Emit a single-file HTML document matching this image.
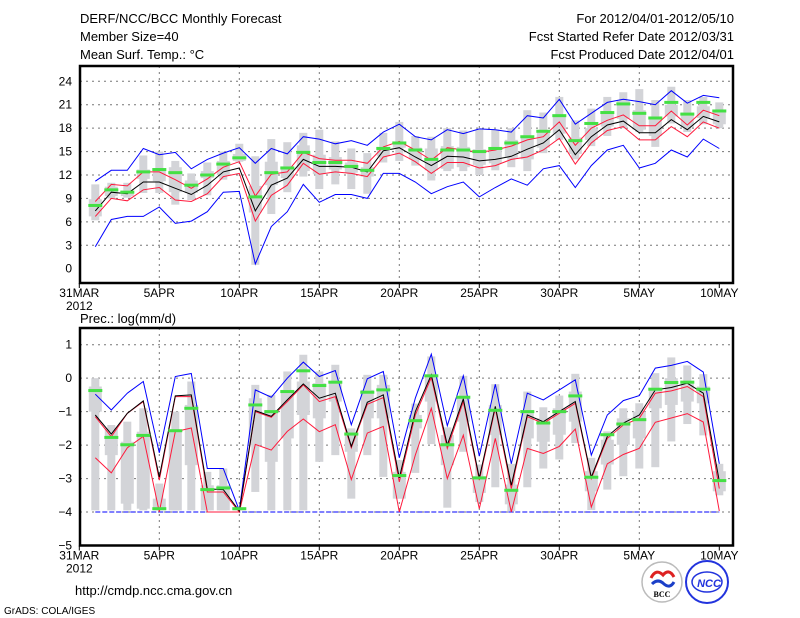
<!DOCTYPE html>
<html><head><meta charset="utf-8"><style>
html,body{margin:0;padding:0;background:#fff;}
svg{display:block;font-family:"Liberation Sans",sans-serif;}
</style></head><body>
<svg id="chart" width="800" height="618" viewBox="0 0 800 618" xmlns="http://www.w3.org/2000/svg">
<rect x="0" y="0" width="800" height="618" fill="#fff"/>
<g font-size="13" fill="#000">
<text x="80" y="23">DERF/NCC/BCC Monthly Forecast</text>
<text x="80" y="41">Member Size=40</text>
<text x="80" y="59">Mean Surf. Temp.: °C</text>
<text x="734" y="23" text-anchor="end">For 2012/04/01-2012/05/10</text>
<text x="734" y="41" text-anchor="end">Fcst Started Refer Date 2012/03/31</text>
<text x="734" y="59" text-anchor="end">Fcst Produced Date 2012/04/01</text>
<text x="80" y="323">Prec.: log(mm/d)</text>
<text x="75" y="595">http://cmdp.ncc.cma.gov.cn</text>
<text x="4" y="614" font-size="10">GrADS: COLA/IGES</text>
</g>
<g>
<circle cx="662" cy="582" r="20" fill="#fff" stroke="#bbb" stroke-width="1.5"/>
<path d="M651 578 q5 -10 12 -3 q6 -7 11 2" fill="none" stroke="#d22" stroke-width="3"/>
<path d="M652 584 q6 -6 12 0 q6 5 10 -2" fill="none" stroke="#1b3fc8" stroke-width="3"/>
<text x="662" y="597" font-size="8" text-anchor="middle" font-family="Liberation Serif,serif" font-weight="bold">BCC</text>
</g>
<g>
<circle cx="707" cy="582" r="21" fill="#fff" stroke="#2233dd" stroke-width="2"/>
<ellipse cx="707" cy="582" rx="15" ry="10" fill="none" stroke="#2233dd" stroke-width="1.5"/>
<text x="709" y="587" font-size="11" font-style="italic" font-weight="bold" text-anchor="middle" fill="#2233dd">NCC</text>
</g>
<g id="top"></g>
<g id="bot"></g>
</svg>
<script>
// ---------- data: temperature panel (days 1..40) ----------
const tBlueHi=[11.2,12.6,12.6,15.4,14.6,14.9,12.8,14.0,14.8,15.5,13.5,15.4,14.7,16.9,16.6,16.0,16.4,15.8,17.5,18.5,16.9,16.5,17.8,17.3,17.9,17.8,17.5,19.6,19.3,21.7,18.5,19.9,21.3,21.7,21.4,21.0,22.8,21.2,22.2,21.9];
const tBlueLo=[2.8,6.3,6.7,6.7,7.9,5.8,6.1,7.3,9.8,9.9,0.6,5.4,7.3,10.8,8.5,9.5,9.5,9.0,12.2,12.2,11.1,9.6,10.5,11.1,9.2,10.4,11.5,10.7,12.8,13.2,10.4,13.2,15.2,15.8,12.9,13.5,15.2,14.3,16.6,15.4];
const tMean=[7.4,9.8,9.6,11.1,11.1,10.3,9.5,10.7,12.4,12.9,7.4,10.7,11.6,14.0,13.1,13.1,13.0,12.4,15.1,15.5,14.3,13.2,14.4,14.3,13.8,14.0,14.4,15.3,16.1,17.8,14.6,16.9,18.4,18.9,17.4,17.4,19.1,17.8,19.5,18.8];
const tRedHi=[8.6,10.8,10.6,12.4,12.4,11.4,10.3,11.5,13.0,13.7,9.3,12.1,12.4,14.9,14.1,13.9,13.9,13.5,15.6,16.3,15.2,13.9,15.5,15.2,14.9,15.2,15.7,16.5,16.9,18.8,15.8,18.0,19.0,19.7,18.3,18.3,20.2,18.4,20.3,19.6];
const tRedLo=[6.7,9.0,8.7,10.1,10.4,8.8,8.6,9.6,11.8,12.2,6.1,9.4,10.7,13.5,12.1,12.4,12.2,11.8,14.3,14.8,13.7,12.2,13.6,13.6,12.9,13.2,14.0,14.3,15.2,16.7,13.4,16.1,17.7,18.2,16.5,16.5,18.2,16.9,18.8,18.0];
const tGreen=[8.1,10.1,9.8,12.4,12.7,12.3,10.7,12.0,13.4,14.2,9.2,12.3,12.9,14.9,13.6,13.6,13.1,12.6,15.4,16.1,15.2,14.0,15.2,15.2,15.0,15.4,16.1,16.9,17.6,19.6,16.4,18.6,20.0,21.1,19.9,19.3,21.3,19.8,21.3,20.2];
const tWhLo=[6.2,9.0,9.1,9.7,9.7,8.2,8.8,9.4,11.4,13.7,0.5,7.0,9.8,11.8,10.2,10.8,10.2,9.6,13.6,13.8,13.2,11.3,12.5,12.5,12.0,12.6,13.0,12.5,14.8,16.5,14.0,15.7,17.0,18.0,17.5,15.6,18.6,17.5,18.5,18.0];
const tWhHi=[10.8,11.0,11.0,14.5,15.0,13.8,12.2,13.6,15.0,16.0,14.4,16.6,16.2,17.4,17.8,16.3,15.4,14.8,17.4,18.8,17.0,16.9,18.0,17.7,17.8,17.8,18.0,20.3,20.0,22.0,19.0,20.5,22.0,22.6,23.0,21.6,23.3,21.6,22.0,21.3];
const tBoxLo=[6.7,9.3,9.3,11.5,11.2,9.8,9.7,11.6,12.0,13.8,7.2,10.7,11.6,12.5,12.1,12.7,12.3,11.8,14.4,15.5,14.0,12.6,12.8,13.0,13.3,13.5,14.2,14.0,15.5,17.3,14.7,16.5,18.2,19.2,17.8,17.0,19.5,18.1,19.3,18.5];
const tBoxHi=[8.9,10.5,10.0,12.7,12.7,13.0,11.3,12.5,13.8,14.7,10.6,13.7,13.1,15.8,14.6,14.3,13.6,13.0,15.6,16.3,15.5,15.4,15.7,15.6,15.3,15.5,16.5,16.8,17.5,19.5,16.8,18.0,20.0,21.5,20.3,19.5,21.0,20.0,20.8,20.2];
const tYTicks=[0,3,6,9,12,15,18,21,24];
// ---------- data: precipitation panel ----------
const pBlueHi=[-0.48,-0.95,-0.45,-0.1,-2.23,0.05,0.14,-2.7,-2.7,-3.95,-0.35,-0.57,0.0,0.48,0.05,0.23,-1.39,-0.02,0.2,-2.38,-0.6,0.72,-1.42,0.07,-2.33,-0.18,-2.56,-0.45,-0.65,-0.35,-0.05,-2.3,-1.1,-0.67,-0.52,0.3,0.38,0.5,0.18,-2.56];
const pBlueLo=[-4,-4,-4,-4,-4,-4,-4,-4,-4,-4,-4,-4,-4,-4,-4,-4,-4,-4,-4,-4,-4,-4,-4,-4,-4,-4,-4,-4,-4,-4,-4,-4,-4,-4,-4,-4,-4,-4,-4,-4];
const pMean=[-1.1,-1.67,-1.05,-0.68,-2.96,-0.53,-0.5,-3.31,-3.33,-3.97,-0.97,-1.14,-0.65,-0.17,-0.6,-0.45,-2.04,-0.72,-0.5,-2.98,-1.0,0.1,-2.0,-0.62,-2.98,-0.84,-3.2,-1.1,-1.3,-1.0,-0.7,-2.96,-1.74,-1.34,-1.1,-0.35,-0.28,-0.15,-0.45,-3.08];
const pRedHi=[-1.15,-1.75,-1.05,-0.7,-3.05,-0.55,-0.55,-3.4,-3.4,-4,-1.0,-1.17,-0.7,-0.2,-0.7,-0.55,-2.08,-0.78,-0.58,-3.1,-1.1,0.02,-2.1,-0.7,-3.05,-0.9,-3.3,-1.15,-1.35,-1.05,-0.75,-3.0,-1.8,-1.4,-1.2,-0.45,-0.38,-0.25,-0.55,-3.3];
const pRedLo=[-2.38,-2.83,-2.08,-1.74,-4,-1.6,-1.49,-4,-4,-4,-1.98,-2.15,-1.59,-1.22,-1.6,-1.39,-3.03,-1.64,-1.44,-4,-2.3,-0.9,-3.0,-1.7,-3.9,-1.8,-4,-2.1,-2.25,-2.04,-1.52,-3.85,-2.56,-2.28,-2.1,-1.32,-1.19,-1.06,-1.31,-3.97];
const pGreen=[-0.37,-1.77,-1.99,-1.71,-3.9,-1.57,-0.9,-3.33,-3.28,-3.9,-0.8,-1.0,-0.4,0.22,-0.22,-0.12,-1.67,-0.42,-0.35,-2.91,-1.27,0.07,-1.99,-0.57,-2.98,-0.96,-3.35,-1.0,-1.34,-1.0,-0.53,-2.96,-1.69,-1.37,-1.24,-0.33,-0.13,-0.12,-0.33,-3.06];
const pWhLo=[-3.95,-3.95,-3.95,-3.95,-3.95,-3.95,-3.95,-3.95,-3.95,-3.95,-3.4,-3.95,-3.95,-3.95,-2.5,-2.3,-3.6,-2.3,-2.95,-3.6,-2.83,-1.97,-3.87,-2.2,-3.7,-3.26,-3.97,-3.26,-2.7,-2.43,-1.94,-3.94,-3.33,-2.93,-2.7,-2.66,-1.89,-1.37,-1.71,-3.5];
const pWhHi=[0.0,-1.4,-1.3,-0.9,-3.15,-1.0,-0.1,-2.8,-2.7,-3.9,-0.2,-0.5,0.2,0.7,0.2,0.4,-1.5,0.1,0.1,-2.45,-0.76,0.65,-1.47,0.07,-2.58,-0.18,-2.56,-0.4,-0.87,-0.52,0.13,-2.38,-1.59,-0.9,-0.75,0.15,0.62,0.38,0.12,-2.56];
const pBoxLo=[-1.0,-2.3,-3.75,-3.9,-3.95,-3.95,-2.6,-3.95,-3.95,-3.95,-2.0,-2.5,-1.8,-1.1,-1.2,-0.7,-2.2,-1.2,-1.2,-3.6,-1.5,-0.7,-2.6,-1.3,-3.43,-1.7,-3.77,-1.8,-1.9,-1.69,-1.3,-3.38,-2.58,-1.99,-1.8,-0.9,-0.8,-0.7,-0.75,-3.38];
const pBoxHi=[-0.25,-1.5,-1.9,-1.6,-3.6,-1.6,-0.8,-3.2,-3.2,-3.9,-0.6,-0.95,-0.35,-0.1,-0.15,-0.1,-1.6,-0.35,-0.2,-2.8,-1.1,0.1,-1.7,-0.55,-2.93,-0.8,-3.18,-0.95,-1.2,-0.9,-0.4,-2.78,-1.84,-1.2,-1.0,-0.3,0.0,-0.1,-0.25,-2.78];
const pYTicks=[-5,-4,-3,-2,-1,0,1];
const xLabels=["31MAR","5APR","10APR","15APR","20APR","25APR","30APR","5MAY","10MAY"];
const xLabelDays=[0,5,10,15,20,25,30,35,40];

const NS="http://www.w3.org/2000/svg";
function mk(tag,attrs,parent){const e=document.createElementNS(NS,tag);for(const k in attrs)e.setAttribute(k,attrs[k]);parent.appendChild(e);return e;}
function xOf(d){return 79.3+16*d;}

function panel(g,cfg){
  const yOf=v=>cfg.y0+(v-cfg.vmin)*(cfg.y1-cfg.y0)/(cfg.vmax-cfg.vmin);
  // grid
  cfg.ticks.forEach(t=>{
    if(t>cfg.vmin && t<cfg.vmax+0.01){
      const l=mk('line',{x1:80,x2:733,y1:yOf(t),y2:yOf(t),stroke:'#777','stroke-dasharray':'2,4','stroke-width':1},g);
      
      
    }
    const tx=mk('text',{x:72,y:yOf(t)+4,'text-anchor':'end','font-size':12},g);
    tx.textContent=(t<0?'\u2212'+(-t):t);
    
    
  });
  xLabelDays.forEach((d,i)=>{
    if(d>0 && d<40){
      const l=mk('line',{x1:xOf(d),x2:xOf(d),y1:cfg.top,y2:cfg.bottom,stroke:'#777','stroke-dasharray':'2,4'},g);
      
      
    }
    const tk=mk('line',{x1:xOf(d),x2:xOf(d),y1:cfg.bottom,y2:cfg.bottom+5,stroke:'#000'},g);
    
    
    const tx=mk('text',{x:xOf(d),y:cfg.bottom+14,'text-anchor':'middle','font-size':12},g);
    tx.textContent=xLabels[i];
    
    
  });
  const yr=mk('text',{x:66,y:cfg.bottom+27,'font-size':12},g);
  yr.textContent='2012';
  
  
  // boxes
  for(let i=0;i<40;i++){
    const x=xOf(i+1);
    const w=mk('rect',{x:x-4,y:yOf(cfg.whHi[i]),width:8,height:Math.max(0,yOf(cfg.whLo[i])-yOf(cfg.whHi[i])),fill:'#d3d4d8'},g);
    
    
    const b=mk('rect',{x:x-6.5,y:yOf(cfg.boxHi[i]),width:13,height:Math.max(1,yOf(cfg.boxLo[i])-yOf(cfg.boxHi[i])),fill:'#d3d4d8'},g);
    
    
  }
  const line=(arr,color,name,dash)=>{
    const pts=arr.map((v,i)=>xOf(i+1).toFixed(1)+','+yOf(v).toFixed(1)).join(' ');
    const p=mk('polyline',{points:pts,fill:'none',stroke:color,'stroke-width':1},g);
    if(dash)p.setAttribute('stroke-dasharray',dash);
    
    
  };
  line(cfg.blueHi,'#0000ff','max-line');
  line(cfg.blueLo,'#0000ff','min-line',cfg.dashLo);
  line(cfg.redLo,'#ff1a3c','lower-spread-line');
  line(cfg.redHi,'#ff1a3c','upper-spread-line');
  line(cfg.mean,'#000','ensemble-mean-line');
  for(let i=0;i<40;i++){
    const m=mk('rect',{x:xOf(i+1)-7,y:yOf(cfg.green[i])-1.5,width:14,height:3,fill:'#44e044'},g);
    
    
  }
  const fr=mk('rect',{x:80,y:cfg.top,width:653,height:cfg.bottom-cfg.top,fill:'none',stroke:'#000','stroke-width':2.5},g);
  
  
}
panel(document.getElementById('top'),{top:66,bottom:283,y0:268.7,y1:81.3,vmin:0,vmax:24,ticks:tYTicks,
 whLo:tWhLo,whHi:tWhHi,boxLo:tBoxLo,boxHi:tBoxHi,blueHi:tBlueHi,blueLo:tBlueLo,redHi:tRedHi,redLo:tRedLo,mean:tMean,green:tGreen});
panel(document.getElementById('bot'),{top:328,bottom:545.5,y0:545.5,y1:344.7,vmin:-5,vmax:1,ticks:pYTicks,
 whLo:pWhLo,whHi:pWhHi,boxLo:pBoxLo,boxHi:pBoxHi,blueHi:pBlueHi,blueLo:pBlueLo,redHi:pRedHi,redLo:pRedLo,mean:pMean,green:pGreen,dashLo:'5,2'});
</script>
</body></html>
